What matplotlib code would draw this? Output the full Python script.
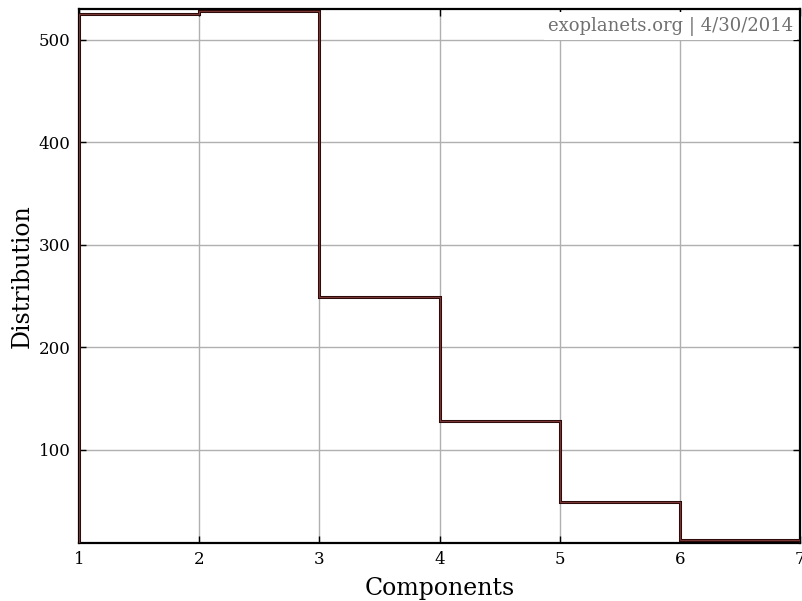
import matplotlib
matplotlib.use("Agg")
import matplotlib.pyplot as plt

bin_edges = [1, 2, 3, 4, 5, 6, 7]
counts = [525, 528, 249, 128, 49, 12]
yticks = [100, 200, 300, 400, 500]
xticks = [1, 2, 3, 4, 5, 6, 7]

plt.rcParams['font.family'] = ['DejaVu Serif']
fig = plt.figure(figsize=(8.02, 6.01), dpi=100)
ax = fig.add_axes([79/802, 1 - 543/601, (800 - 79)/802, (543 - 9)/601])

ax.stairs(counts, bin_edges, color='#2a0a0a', linewidth=2.2, baseline=0, zorder=3)
ax.stairs(counts, bin_edges, color='#7a3535', linewidth=0.8, baseline=0, zorder=4)

ax.set_xlim(1, 7)
ax.set_ylim(9.3, 530)
ax.set_xticks(xticks)
ax.set_yticks(yticks)
ax.grid(True, color='#b0b0b0', linewidth=1, linestyle='-', zorder=0)
ax.set_axisbelow(True)
ax.tick_params(direction='in', top=True, right=True, labelsize=12, length=5, width=1, pad=6)
for s in ax.spines.values():
    s.set_linewidth(1.6)
ax.set_xlabel('Components', fontsize=17, labelpad=6)
ax.set_ylabel('Distribution', fontsize=17, labelpad=4)

ax.text(0.99, 0.968, 'exoplanets.org | 4/30/2014', transform=ax.transAxes,
        ha='right', va='center', fontsize=13, color='#707070',
        bbox=dict(facecolor='white', edgecolor='none', pad=3), zorder=5)

fig.savefig('out.png', dpi=100)
